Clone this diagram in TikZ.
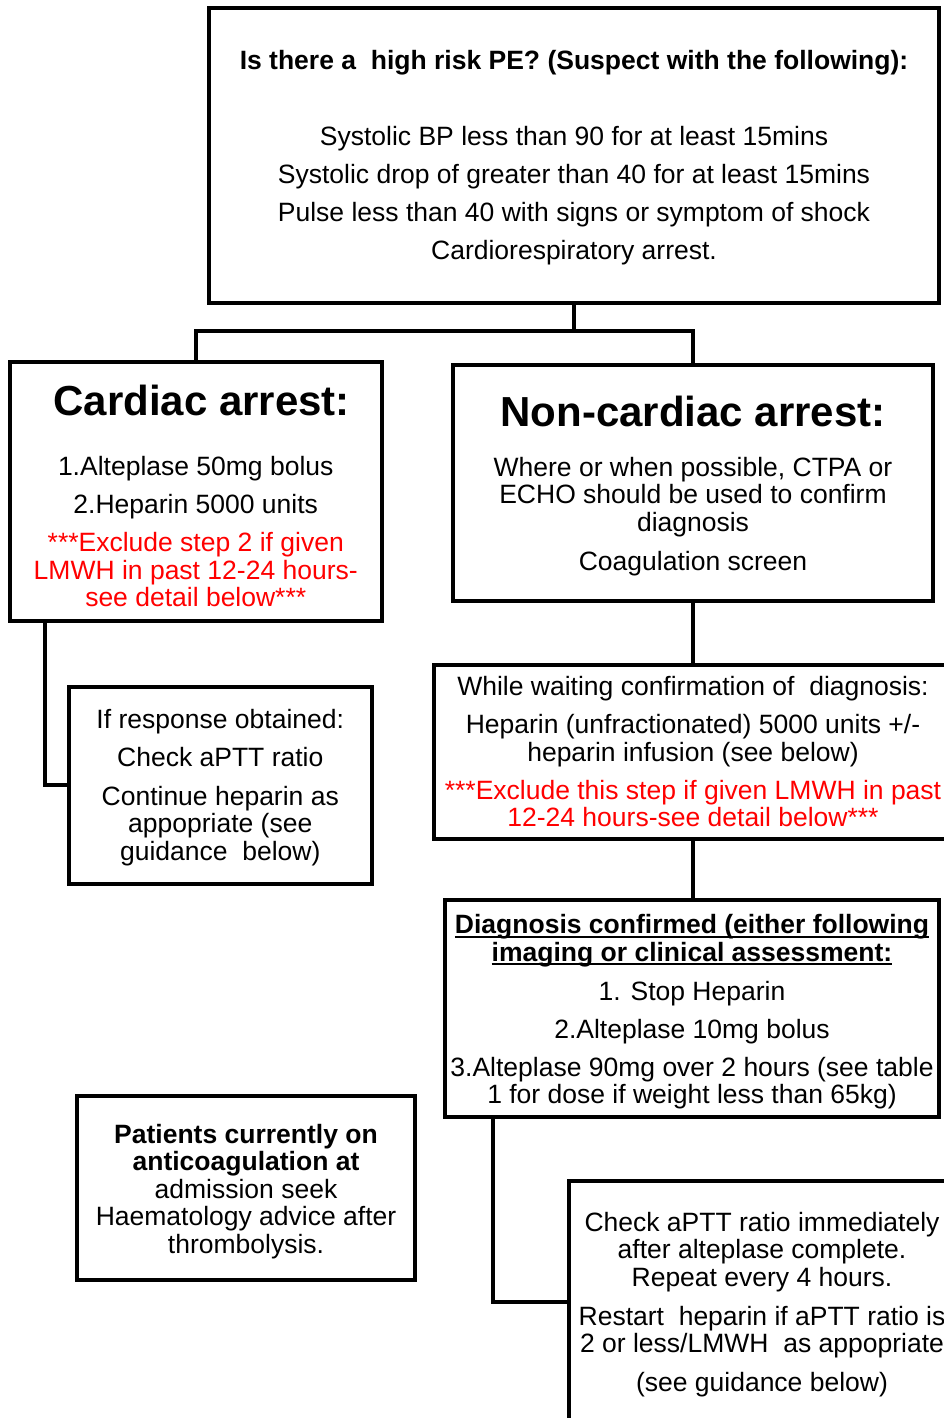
\documentclass[tikz,border=0pt]{standalone}
\usepackage{fontspec}
\setmainfont{Liberation Sans}
\newsavebox\ulbx
\newcommand\myul[1]{\sbox\ulbx{#1}\rlap{\rule[-4.2pt]{\wd\ulbx}{2pt}}\usebox\ulbx}
\newcommand\rd[1]{\textcolor{red}{#1}}
\newcommand\bighead[1]{{\fontsize{42}{42}\selectfont\bfseries #1}}
\newcommand\tsp[1]{\rule{0pt}{#1}}
\begin{document}
\begin{tikzpicture}[x=1pt,y=-1pt,
  box/.style={draw, line width=4pt, inner sep=0pt, align=center,
    font=\fontsize{26.5}{27.5}\selectfont},
  conn/.style={line width=4pt}]
\useasboundingbox (0,0) rectangle (944,1418);

\node[box, minimum width=730pt, minimum height=295pt, font=\fontsize{26.5}{38}\selectfont]
  (top) at (574,155.5) {\tsp{23.4pt}\textbf{Is there a\ \ high risk PE? (Suspect with the following):}\\[38pt]
  Systolic BP less than 90 for at least 15mins\\
  Systolic drop of greater than 40 for at least 15mins\\
  Pulse less than 40 with signs or symptom of shock\\
  Cardiorespiratory arrest.};

\node[box, minimum width=371.5pt, minimum height=259.5pt] (cardiac) at (195.75,491.25)
  {\tsp{40.6pt}\hspace*{12pt}\bighead{Cardiac arrest:}\\[32pt]
  1.Alteplase 50mg bolus\\[10.5pt]
  2.Heparin 5000 units\\[11pt]
  \rd{***Exclude step 2 if given}\\
  \rd{LMWH in past 12-24 hours-}\\
  \rd{see detail below***}};

\node[box, minimum width=480pt, minimum height=236pt] (noncardiac) at (693,483)
  {\tsp{36.6pt}\bighead{Non-cardiac arrest:}\\[22pt]
  Where or when possible, CTPA or\\
  ECHO should be used to confirm\\
  diagnosis\\[11.5pt]
  Coagulation screen};

\node[box, minimum width=518pt, minimum height=174pt] (waiting) at (693,752)
  {While waiting confirmation of\ \ diagnosis:\\[10.5pt]
  Heparin (unfractionated) 5000 units +/-\\
  heparin infusion (see below)\\[10.5pt]
  \rd{***Exclude this step if given LMWH in past}\\
  \rd{12-24 hours-see detail below***}};

\node[box, minimum width=494pt, minimum height=217pt] (diag) at (692,1008.5)
  {\tsp{25.5pt}\textbf{\myul{Diagnosis confirmed (either following}}\\
  \textbf{\myul{imaging or clinical assessment:}}\\[11.5pt]
  1. Stop Heparin\\[10.5pt]
  2.Alteplase 10mg bolus\\[10.5pt]
  3.Alteplase 90mg over 2 hours (see table\\
  1 for dose if weight less than 65kg)};

\node[box, minimum width=386pt, minimum height=242pt] (check) at (762,1302)
  {\tsp{24.5pt}Check aPTT ratio immediately\\
  after alteplase complete.\\
  Repeat every 4 hours.\\[11.5pt]
  Restart\ \ heparin if aPTT ratio is\\
  2 or less/LMWH\ \ as appopriate\\[11.5pt]
  (see guidance below)};

\node[box, minimum width=338pt, minimum height=184pt] (patients) at (246,1188)
  {\tsp{25.5pt}\textbf{Patients currently on}\\
  \textbf{anticoagulation at}\\
  admission seek\\
  Haematology advice after\\
  thrombolysis.};

\node[box, minimum width=303.5pt, minimum height=197.5pt] (response) at (220.25,785.25)
  {\tsp{23.5pt}If response obtained:\\[10.5pt]
  Check aPTT ratio\\[11.5pt]
  Continue heparin as\\
  appopriate (see\\
  guidance\ \ below)};

\coordinate (split) at (574,331);
\draw[conn] (top.south) -- (split);
\draw[conn] (cardiac.north) -- (cardiac.north |- split) -- (noncardiac.north |- split) -- (noncardiac.north);
\draw[conn] (noncardiac.south) -- (waiting.north);
\draw[conn] (waiting.south) -- (waiting.south |- diag.north);
\draw[conn] ([xshift=37pt]cardiac.south west) |- (response.west);
\draw[conn] ([xshift=50pt]diag.south west) |- (check.west);
\end{tikzpicture}
\end{document}
